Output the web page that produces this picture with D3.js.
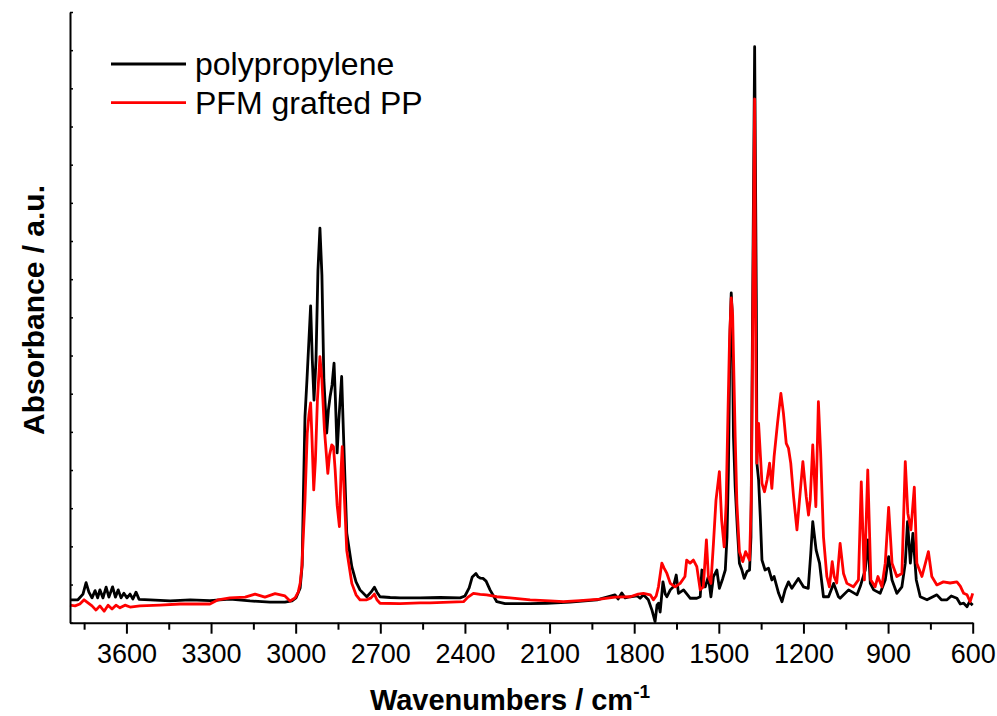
<!DOCTYPE html>
<html>
<head>
<meta charset="utf-8">
<script src="https://cdn.jsdelivr.net/npm/d3@7"></script>
<style>
  body { margin: 0; background: #fff; }
  svg { display: block; font-family: "Liberation Sans", Arial, sans-serif; }
</style>
</head>
<body>
<svg width="997" height="716"></svg>
<script>
// polypropylene spectrum (wavenumber / absorbance)
var ppWave = [3800,3772,3754,3743,3733,3722,3711,3702,3694,3683,3672,3662,3649,3639,3629,3619,3609,3598,3587,3577,3566,3555,3516,3445,3374,3304,3233,3162,3091,3038,3013,2999,2984,2977,2973,2967,2960,2947,2941,2935,2928,2921,2914,2907,2900,2890,2884,2878,2871,2864,2859,2853,2847,2837,2831,2819,2801,2786,2772,2748,2733,2721,2712,2701,2665,2630,2559,2488,2417,2400,2385,2374,2361,2353,2346,2336,2325,2311,2287,2258,2169,2110,2027,1932,1868,1857,1844,1832,1814,1789,1779,1767,1750,1737,1726,1719,1714,1708,1698,1690,1684,1672,1661,1651,1643,1625,1601,1578,1566,1560,1554,1548,1537,1528,1519,1513,1507,1498,1486,1477,1471,1466,1460,1456,1453,1448,1442,1434,1427,1418,1410,1400,1391,1386,1380,1373,1367,1365,1359,1353,1347,1336,1324,1312,1304,1288,1276,1265,1253,1241,1218,1200,1183,1174,1167,1155,1143,1129,1111,1093,1076,1070,1040,1010,999,981,971,963,951,928,910,898,886,869,851,839,831,821,812,800,786,762,727,711,691,676,656,644,632,620,612,600];
var ppAbs = [0.060,0.060,0.075,0.105,0.080,0.065,0.084,0.065,0.086,0.065,0.093,0.067,0.094,0.067,0.086,0.065,0.077,0.065,0.075,0.062,0.080,0.061,0.060,0.057,0.060,0.058,0.062,0.057,0.054,0.054,0.057,0.065,0.091,0.151,0.321,0.540,0.636,0.830,0.688,0.583,0.688,0.924,1.034,0.911,0.636,0.497,0.557,0.592,0.623,0.680,0.583,0.445,0.531,0.645,0.505,0.235,0.147,0.107,0.086,0.068,0.080,0.093,0.080,0.068,0.066,0.065,0.065,0.066,0.065,0.070,0.091,0.120,0.129,0.120,0.117,0.116,0.109,0.086,0.055,0.050,0.050,0.051,0.054,0.060,0.073,0.062,0.078,0.065,0.068,0.070,0.064,0.073,0.060,0.033,0.003,0.046,0.051,0.028,0.107,0.075,0.068,0.086,0.094,0.125,0.077,0.086,0.064,0.064,0.068,0.138,0.094,0.094,0.121,0.068,0.121,0.129,0.138,0.090,0.116,0.138,0.225,0.400,0.767,0.864,0.820,0.487,0.356,0.243,0.156,0.138,0.116,0.134,0.138,0.225,0.845,1.509,0.845,0.418,0.374,0.278,0.164,0.138,0.143,0.112,0.121,0.077,0.055,0.086,0.107,0.090,0.116,0.094,0.090,0.182,0.265,0.190,0.156,0.068,0.068,0.103,0.068,0.064,0.086,0.073,0.094,0.138,0.217,0.103,0.086,0.077,0.112,0.173,0.112,0.077,0.094,0.156,0.265,0.156,0.234,0.112,0.068,0.060,0.073,0.060,0.060,0.070,0.064,0.049,0.051,0.042,0.054,0.046];

// PFM grafted PP spectrum
var pfmWave = [3800,3782,3765,3750,3736,3722,3708,3694,3679,3665,3651,3637,3623,3605,3587,3552,3481,3410,3339,3304,3275,3233,3179,3144,3109,3073,3038,3020,3002,2991,2984,2978,2972,2967,2959,2953,2947,2942,2936,2930,2923,2914,2907,2898,2886,2880,2872,2866,2860,2853,2845,2839,2835,2830,2819,2801,2786,2772,2748,2733,2721,2712,2701,2630,2559,2524,2453,2405,2389,2370,2346,2323,2287,2240,2169,2098,2051,1992,1921,1868,1814,1786,1767,1743,1732,1722,1714,1702,1694,1684,1672,1655,1637,1620,1614,1602,1590,1578,1566,1555,1544,1537,1528,1519,1510,1498,1490,1481,1474,1468,1462,1456,1451,1442,1436,1427,1415,1405,1391,1385,1379,1373,1369,1365,1359,1353,1347,1338,1329,1320,1312,1304,1292,1280,1271,1261,1253,1245,1235,1223,1214,1202,1190,1182,1176,1167,1156,1147,1139,1129,1117,1108,1098,1091,1082,1070,1058,1046,1023,1005,995,984,972,961,946,936,922,910,898,886,869,851,839,830,819,807,798,780,757,745,727,704,680,656,644,632,620,609,600];
var pfmAbs = [0.046,0.044,0.049,0.060,0.052,0.044,0.033,0.044,0.030,0.046,0.036,0.046,0.039,0.046,0.041,0.044,0.046,0.049,0.049,0.049,0.060,0.065,0.067,0.075,0.067,0.076,0.070,0.057,0.065,0.080,0.104,0.147,0.243,0.321,0.496,0.544,0.576,0.479,0.348,0.426,0.583,0.697,0.636,0.505,0.391,0.439,0.466,0.461,0.400,0.308,0.252,0.400,0.461,0.374,0.190,0.103,0.073,0.060,0.060,0.065,0.075,0.060,0.051,0.050,0.052,0.052,0.054,0.055,0.067,0.077,0.074,0.073,0.068,0.065,0.060,0.057,0.055,0.058,0.062,0.067,0.068,0.075,0.077,0.073,0.060,0.070,0.094,0.156,0.143,0.129,0.103,0.094,0.103,0.121,0.164,0.156,0.164,0.147,0.086,0.094,0.217,0.121,0.103,0.208,0.321,0.396,0.269,0.199,0.313,0.531,0.741,0.851,0.806,0.487,0.313,0.186,0.160,0.186,0.164,0.321,0.845,1.372,0.714,0.418,0.522,0.444,0.365,0.343,0.374,0.418,0.352,0.435,0.522,0.601,0.549,0.470,0.457,0.418,0.330,0.243,0.321,0.422,0.330,0.282,0.321,0.466,0.304,0.579,0.444,0.225,0.121,0.094,0.160,0.121,0.104,0.208,0.129,0.103,0.094,0.112,0.369,0.112,0.400,0.112,0.094,0.121,0.094,0.156,0.302,0.156,0.121,0.129,0.422,0.287,0.243,0.355,0.156,0.121,0.186,0.121,0.099,0.107,0.104,0.107,0.096,0.077,0.073,0.055,0.077];

var xMajor = [3600, 3300, 3000, 2700, 2400, 2100, 1800, 1500, 1200, 900, 600];
var xMinor = [3750, 3450, 3150, 2850, 2550, 2250, 1950, 1650, 1350, 1050, 750];
var yTicks = d3.range(0, 17).map(function (i) { return i / 10; });

var series = [
  { name: "polypropylene", color: "#000000", wave: ppWave, abs: ppAbs },
  { name: "PFM grafted PP", color: "#ff0000", wave: pfmWave, abs: pfmAbs }
];

var svg = d3.select("svg");
var plotLeft = 70, plotRight = 972.7, plotTop = 12, plotBottom = 622.7;

var x = d3.scaleLinear().domain([3800, 600]).range([plotLeft, plotRight]);
var y = d3.scaleLinear().domain([0, 1.6]).range([plotBottom, plotTop]);

// spectra
var line = d3.line()
  .x(function (d) { return x(d[0]); })
  .y(function (d) { return y(d[1]); });

series.forEach(function (s) {
  var pts = s.wave.map(function (w, i) { return [w, s.abs[i]]; });
  svg.append("path")
    .datum(pts)
    .attr("fill", "none")
    .attr("stroke", s.color)
    .attr("stroke-width", 2.8)
    .attr("stroke-linejoin", "round")
    .attr("d", line);
});

// x axis - major ticks with labels
var xAxis = svg.append("g")
  .attr("transform", "translate(0," + plotBottom + ")")
  .call(d3.axisBottom(x).tickValues(xMajor).tickSize(11).tickSizeOuter(0).tickFormat(d3.format("d")));
xAxis.select(".domain").attr("stroke-width", 2);
xAxis.selectAll(".tick line").attr("stroke-width", 2);
xAxis.selectAll(".tick text")
  .attr("y", 40).attr("dy", 0)
  .attr("font-size", 27)
  .attr("font-family", "Liberation Sans, Arial, sans-serif")
  .attr("fill", "#000");

// minor ticks
svg.append("g")
  .attr("transform", "translate(0," + plotBottom + ")")
  .call(d3.axisBottom(x).tickValues(xMinor).tickSize(7).tickFormat(""))
  .call(function (g) { g.select(".domain").remove(); })
  .selectAll(".tick line").attr("stroke-width", 2);

// y axis, ticks pointing inward, no labels
var yAxis = svg.append("g")
  .attr("transform", "translate(" + plotLeft + ",0)")
  .call(d3.axisLeft(y).tickValues(yTicks).tickSize(-3).tickSizeOuter(0).tickFormat(""));
yAxis.select(".domain").attr("stroke-width", 2);
yAxis.selectAll(".tick line").attr("stroke-width", 1.5);

// axis titles
var xt = svg.append("text")
  .attr("x", 510)
  .attr("y", 710)
  .attr("text-anchor", "middle")
  .attr("font-size", 29)
  .attr("font-weight", "bold");
xt.append("tspan").text("Wavenumbers / cm");
xt.append("tspan").attr("dy", -12).attr("font-size", 19).text("-1");

svg.append("text")
  .attr("transform", "translate(44,310) rotate(-90)")
  .attr("text-anchor", "middle")
  .attr("font-size", 30)
  .attr("font-weight", "bold")
  .text("Absorbance / a.u.");

// legend
var legend = svg.append("g");
series.forEach(function (s, i) {
  var ly = 64 + i * 38.7;
  legend.append("line")
    .attr("x1", 111).attr("x2", 186)
    .attr("y1", ly).attr("y2", ly)
    .attr("stroke", s.color)
    .attr("stroke-width", 2.8);
  legend.append("text")
    .attr("x", 195)
    .attr("y", ly + 11)
    .attr("font-size", 32)
    .text(s.name);
});
</script>
</body>
</html>
